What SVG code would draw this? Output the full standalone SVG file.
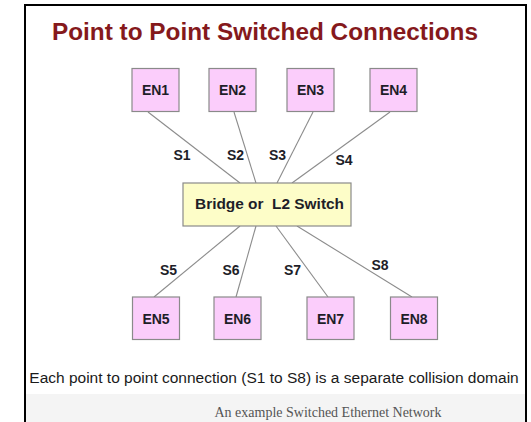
<svg xmlns="http://www.w3.org/2000/svg" width="531" height="422" viewBox="0 0 531 422">
  <style>
    .en rect { fill: #fbcdfb; stroke: #8a8a8a; stroke-width: 1.2; }
    .lbl { font-family: "Liberation Sans", Arial, sans-serif; font-weight: bold; font-size: 14px; fill: #1e1e28; text-anchor: middle; }
    .link { stroke: #8c8c8c; stroke-width: 1.1; fill: none; }
  </style>
  <rect width="531" height="422" fill="#ffffff"/>
  <!-- caption band -->
  <rect x="25" y="394" width="501" height="28" fill="#f4f4f4"/>
  <!-- frame -->
  <path d="M25,422 V5 H526 V422" fill="none" stroke="#000" stroke-width="2"/>

  <text x="265" y="40" text-anchor="middle" font-family="'Liberation Sans', Arial, sans-serif" font-weight="bold" font-size="23" fill="#85191c" textLength="426" lengthAdjust="spacingAndGlyphs">Point to Point Switched Connections</text>

  <g id="connectors">
    <line class="link" x1="148" y1="112" x2="240" y2="183"/>
    <line class="link" x1="234" y1="112" x2="256" y2="183"/>
    <line class="link" x1="313" y1="112" x2="277" y2="183"/>
    <line class="link" x1="390" y1="112" x2="292" y2="183"/>
    <line class="link" x1="240" y1="226" x2="154" y2="297"/>
    <line class="link" x1="256" y1="226" x2="236" y2="297"/>
    <line class="link" x1="276" y1="226" x2="328" y2="297"/>
    <line class="link" x1="297" y1="226" x2="412" y2="297"/>
    <text class="lbl" x="182" y="160">S1</text>
    <text class="lbl" x="235.5" y="160">S2</text>
    <text class="lbl" x="277.5" y="160">S3</text>
    <text class="lbl" x="344" y="165">S4</text>
    <text class="lbl" x="168.5" y="275">S5</text>
    <text class="lbl" x="231" y="275">S6</text>
    <text class="lbl" x="292.5" y="275">S7</text>
    <text class="lbl" x="380" y="270">S8</text>
  </g>

  <g id="switch">
    <rect x="183" y="183" width="168" height="43" fill="#fdfdc8" stroke="#8a8a8a" stroke-width="1.2"/>
    <text class="lbl" x="269.5" y="208.5" font-size="15" textLength="149" lengthAdjust="spacingAndGlyphs" xml:space="preserve">Bridge or  L2 Switch</text>
  </g>

  <g id="en1" class="en"><rect x="132" y="68.5" width="47" height="43"/><text class="lbl" x="155.5" y="95">EN1</text></g>
  <g id="en2" class="en"><rect x="209" y="68.5" width="47" height="43"/><text class="lbl" x="232.5" y="95">EN2</text></g>
  <g id="en3" class="en"><rect x="287" y="68.5" width="47" height="43"/><text class="lbl" x="310.5" y="95">EN3</text></g>
  <g id="en4" class="en"><rect x="370" y="68.5" width="47" height="43"/><text class="lbl" x="393.5" y="95">EN4</text></g>
  <g id="en5" class="en"><rect x="132.5" y="297" width="47" height="42.5"/><text class="lbl" x="156" y="323.5">EN5</text></g>
  <g id="en6" class="en"><rect x="214" y="297" width="47" height="42.5"/><text class="lbl" x="237.5" y="323.5">EN6</text></g>
  <g id="en7" class="en"><rect x="307" y="297" width="47" height="42.5"/><text class="lbl" x="330.5" y="323.5">EN7</text></g>
  <g id="en8" class="en"><rect x="390.5" y="297" width="47" height="42.5"/><text class="lbl" x="414" y="323.5">EN8</text></g>

  <text x="274" y="383" text-anchor="middle" font-family="'Liberation Sans', Arial, sans-serif" font-size="15.5" fill="#1a1a1a">Each point to point connection (S1 to S8) is a separate collision domain</text>
  <text x="328" y="417" text-anchor="middle" font-family="'Liberation Serif', 'Times New Roman', serif" font-size="14" fill="#555555">An example Switched Ethernet Network</text>
</svg>
